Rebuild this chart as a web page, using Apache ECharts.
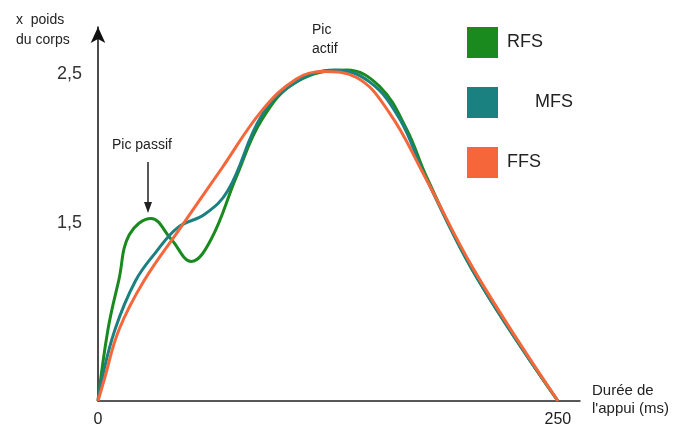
<!DOCTYPE html>
<html>
<head>
<meta charset="utf-8">
<script src="https://cdn.jsdelivr.net/npm/echarts@6/dist/echarts.min.js"></script>
<style>html,body{margin:0;padding:0;background:#fff}#c{width:682px;height:429px}</style>
</head>
<body>
<div id="c"></div>
<script>
// Data (time in ms, force in body weights)
var seriesNames = ['RFS', 'MFS', 'FFS'];
var rfsData = [[0,0.30],[5.4,0.78],[11.4,1.12],[17,1.42],[28.9,1.53],[39.8,1.39],[50.7,1.24],[61.5,1.39],[75.2,1.81],[89.3,2.20],[107.8,2.45],[135.1,2.53],[153,2.42],[167.8,2.13],[178.6,1.81],[205,1.15],[250,0.30]];
var mfsData = [[0,0.30],[1.6,0.42],[9.2,0.78],[20.4,1.11],[31.3,1.30],[43.5,1.47],[58.2,1.56],[70.7,1.72],[89.3,2.23],[107.8,2.45],[128.5,2.53],[147.6,2.45],[164,2.20],[177.6,1.82],[206,1.13],[250,0.30]];
var ffsData = [[0,0.30],[3.3,0.44],[11.4,0.78],[25,1.11],[45,1.47],[67.4,1.87],[89.3,2.26],[107.8,2.47],[122,2.52],[140.5,2.48],[158.5,2.24],[176.5,1.84],[205,1.17],[250,0.30]];
var xTickValues = [0, 250];
var yTickValues = [1.5, 2.5];
var colors = ['#1a8a1f', '#1a8080', '#f5673a'];

var chart = echarts.init(document.getElementById('c'), null, {renderer: 'canvas'});
var font = '"Liberation Sans", Arial, sans-serif';
function legendFor(i, top, padLeft) {
  return {
    show: true, orient: 'vertical', left: 462, top: top,
    data: [seriesNames[i]], icon: 'rect', itemWidth: 31, itemHeight: 31,
    selectedMode: false,
    textStyle: {fontSize: 18, color: '#222', fontFamily: font, padding: [0, 0, 0, padLeft]}
  };
}
chart.setOption({
  animation: false,
  backgroundColor: '#fff',
  grid: {left: 98, right: 102, top: 27, bottom: 28, containLabel: false},
  legend: [legendFor(0, 22, 4), legendFor(1, 82, 32), legendFor(2, 142, 4)],
  xAxis: {
    type: 'value', min: 0, max: 262,
    axisLine: {show: true, lineStyle: {color: '#222', width: 1.5}},
    axisTick: {show: false},
    splitLine: {show: false},
    axisLabel: {customValues: xTickValues, fontSize: 16, color: '#222', fontFamily: font, margin: 11}
  },
  yAxis: {
    type: 'value', min: 0.3, max: 2.82,
    axisLine: {show: true, symbol: ['none', 'arrow'], symbolSize: [11, 16], lineStyle: {color: '#111', width: 1.5}},
    axisTick: {show: false},
    splitLine: {show: false},
    axisLabel: {customValues: yTickValues, fontSize: 18, color: '#333', fontFamily: font, margin: 16,
      formatter: function (v) { return String(v).replace('.', ','); }}
  },
  graphic: [
    {type: 'text', left: 16, top: 10, style: {text: 'x  poids\ndu corps', font: '14px ' + font, fill: '#222', lineHeight: 20}},
    {type: 'text', left: 592, top: 382, style: {text: 'Durée de\nl\'appui (ms)', font: '15px ' + font, fill: '#222', lineHeight: 18}},
    {type: 'text', left: 112, top: 138, style: {text: 'Pic passif', font: '14px ' + font, fill: '#222'}},
    {type: 'line', shape: {x1: 148, y1: 162, x2: 148, y2: 204}, style: {stroke: '#222', lineWidth: 1.5}},
    {type: 'polygon', shape: {points: [[144, 202], [152, 202], [148, 213]]}, style: {fill: '#222'}},
    {type: 'text', left: 312, top: 21, style: {text: 'Pic\nactif', font: '14px ' + font, fill: '#222', lineHeight: 19}}
  ],
  series: [
    {name: 'RFS', type: 'line', data: rfsData, smooth: 0.4, showSymbol: false, color: colors[0], lineStyle: {width: 3, color: colors[0]}},
    {name: 'MFS', type: 'line', data: mfsData, smooth: 0.4, showSymbol: false, color: colors[1], lineStyle: {width: 3, color: colors[1]}},
    {name: 'FFS', type: 'line', data: ffsData, smooth: 0.4, showSymbol: false, color: colors[2], lineStyle: {width: 3, color: colors[2]}}
  ]
});
</script>
</body>
</html>
